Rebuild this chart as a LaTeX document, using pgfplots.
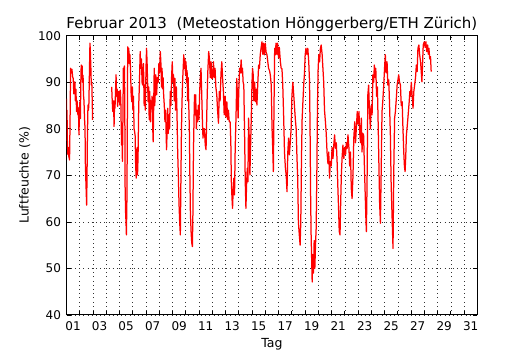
\documentclass[border=0pt]{standalone}
\usepackage{fontspec}
\setmainfont{DejaVu Sans}
\usepackage{pgfplots}
\pgfplotsset{compat=1.18}
\begin{document}
\begin{tikzpicture}
\path[use as bounding box] (0,0) rectangle (530pt,350pt);
\begin{axis}[
  at={(66.5pt,35pt)}, anchor=south west,
  scale only axis, width=410.8pt, height=279.3pt,
  xmin=0, xmax=31, ymin=40, ymax=100,
  xtick={0.5,2.5,...,30.5},
  xticklabels={01,03,05,07,09,11,13,15,17,19,21,23,25,27,29,31},
  minor xtick={1,2,...,30},
  ytick={40,50,...,100},
  xmajorgrids=false, xminorgrids=true, ymajorgrids=true,
  every major x tick/.append style={draw=none},
  major tick length=4pt, minor tick length=4pt,
  tick align=inside,
  tick style={black, line width=0.6pt},
  grid style={black!80, line width=0.55pt, dash pattern=on 0.8pt off 3.4pt},
  axis line style={line width=1pt, black},
  /pgf/number format/assume math mode=true,
  tick label style={font=\fontsize{12}{14}\selectfont},
  xticklabel style={yshift=-3.5pt},
  yticklabel style={xshift=-2pt},
  label style={font=\fontsize{12.5}{15}\selectfont},
  xlabel={Tag}, ylabel={Luftfeuchte (\%)},
  xlabel style={at={(axis description cs:0.5,0)}, anchor=base, yshift=-33pt},
  ylabel style={at={(axis description cs:-0.102,0.5)}, anchor=center},
  title={Februar 2013\ \ (Meteostation Hönggerberg/ETH Zürich)},
  title style={font=\fontsize{15}{18}\selectfont, at={(axis description cs:0.5,1)}, anchor=base, yshift=1pt},
  unbounded coords=jump,
]
\addplot[red, line width=1.25pt, line join=round] table {
x y
0.00 86.5
0.02 80
0.04 84
0.06 78
0.08 76
0.10 74.5
0.14 76
0.18 74
0.23 73.3
0.27 82
0.31 93.0
0.35 92
0.41 92.8
0.46 91.2
0.51 90.8
0.55 87.5
0.59 89
0.63 90.1
0.67 86
0.71 88.5
0.76 83.7
0.80 86
0.86 83.0
0.90 84.5
0.94 78.7
0.98 84
1.01 85.8
1.05 82.2
1.08 90
1.11 93.7
1.15 92
1.18 93.5
1.21 90
1.25 91.5
1.28 87.3
1.32 86
1.36 82.2
1.40 80
1.42 72.9
1.47 68
1.52 63.6
1.55 70
1.58 78.7
1.62 85.1
1.66 84
1.69 85.5
1.73 92
1.77 98.4
1.80 96.6
1.84 93
1.87 89.4
1.91 90
1.94 86
1.97 81.9
2.5 nan
3.41 89.0
3.45 86
3.49 83.7
3.55 86
3.59 80.5
3.63 86
3.66 84.4
3.70 88
3.74 91.6
3.78 87
3.82 88.5
3.86 84.8
3.90 88
3.94 85.8
3.98 88
4.02 85.1
4.06 88.3
4.10 86
4.13 80
4.16 76.5
4.19 78
4.22 73
4.25 80
4.29 93
4.33 92.5
4.37 93.5
4.40 85
4.42 68
4.46 62
4.49 60
4.52 57.2
4.56 65
4.59 80
4.62 97.6
4.66 95
4.70 97.3
4.74 94
4.78 96
4.83 93
4.88 87.3
4.93 85.8
4.97 89
5.01 84
5.05 87
5.10 80
5.14 79.4
5.18 78.5
5.22 72
5.26 69.4
5.30 75.1
5.34 76
5.36 70.1
5.40 74
5.45 85
5.50 89.4
5.56 96.6
5.60 93
5.66 95
5.70 90
5.75 89.4
5.81 94
5.86 85
5.91 89.4
5.95 84
6.00 93
6.04 97.3
6.08 94.4
6.12 90
6.16 85.8
6.20 89
6.24 82
6.28 88
6.33 81.5
6.37 86
6.42 84.4
6.46 87
6.51 80
6.54 77.2
6.58 85
6.62 93
6.66 85
6.70 88
6.74 91.6
6.80 87.3
6.86 91
6.92 90
6.97 94
7.02 92
7.08 96.6
7.12 94.4
7.17 89
7.21 93
7.25 88.6
7.29 91
7.33 87.3
7.38 85
7.43 81.5
7.48 84
7.52 78.6
7.55 75.5
7.60 80
7.64 84.4
7.68 79
7.73 83
7.78 80
7.83 88
7.88 85
7.93 91
7.98 94.4
8.03 90
8.08 91.6
8.13 86
8.18 90.8
8.23 84
8.29 89
8.34 83
8.39 75
8.44 70
8.49 64
8.54 60
8.59 57.2
8.63 68
8.67 78.6
8.71 85
8.75 89.4
8.79 92
8.85 95.9
8.89 93
8.94 95
8.98 91.6
9.02 94.4
9.06 90
9.10 92.5
9.14 86
9.18 91
9.22 85.8
9.27 80
9.31 70
9.35 62
9.40 58
9.45 55.5
9.50 54.7
9.54 62
9.58 75
9.62 81.5
9.66 87.3
9.70 83
9.75 87.3
9.80 80
9.85 84
9.90 81.5
9.95 85
10.00 82
10.05 88
10.10 91
10.15 93
10.20 88
10.25 82.3
10.30 78
10.35 80
10.41 80
10.47 76.5
10.53 75.5
10.60 85
10.66 92
10.73 96.6
10.79 95
10.85 91
10.91 94.4
10.96 90.8
11.02 90.8
11.09 94.4
11.15 91
11.21 93
11.27 89
11.34 87.3
11.40 84
11.47 81.2
11.53 88
11.59 86
11.66 92
11.72 94.4
11.78 90.8
11.84 88
11.90 83
11.97 87
12.03 82.5
12.10 85.8
12.16 82
12.22 84
12.28 81.5
12.35 81.5
12.40 77.2
12.44 68.6
12.49 65
12.53 62.9
12.58 67
12.63 69.4
12.68 65.8
12.73 75.8
12.79 82.3
12.85 90.8
12.90 87
12.95 82.3
13.00 88
13.06 93
13.12 92
13.18 94.8
13.23 92
13.28 93
13.33 90
13.38 89.4
13.44 78.6
13.49 68.6
13.54 62.9
13.59 68
13.64 71.5
13.69 68.6
13.74 82.3
13.79 78
13.84 70.1
13.89 76
13.94 82
14.00 90
14.04 93
14.09 91.6
14.14 86
14.20 90
14.26 85.8
14.32 88.5
14.37 85.1
14.43 89.4
14.50 93.7
14.56 93
14.62 95.9
14.68 97.3
14.75 98.7
14.81 96
14.87 98.4
14.93 95.9
15.00 98.4
15.06 96.5
15.13 95.9
15.19 94.4
15.25 93
15.32 92.5
15.38 91.6
15.45 89.4
15.51 80.1
15.56 76
15.61 70.8
15.66 85
15.71 97.3
15.76 95.9
15.81 98.4
15.87 96
15.93 98.4
16.00 95.2
16.06 97.5
16.14 94.4
16.20 93
16.26 92.9
16.32 89.4
16.39 82.3
16.45 75
16.52 71.5
16.58 70
16.64 66.5
16.70 75
16.76 78
16.82 74.4
16.89 77.2
16.95 80
17.01 87
17.08 90
17.13 88
17.20 85
17.27 82
17.33 80
17.39 74
17.45 69
17.50 60
17.56 57.5
17.63 55
17.68 60
17.73 73
17.78 82
17.84 85.8
17.90 89.4
17.96 92
18.01 95.9
18.07 97.3
18.14 96
18.21 97.3
18.28 94.4
18.34 90
18.38 80
18.42 66
18.46 57.2
18.50 52
18.54 47.1
18.59 53
18.64 49
18.69 56
18.74 50
18.79 55
18.84 58.6
18.89 70
18.94 85
18.99 93
19.04 95.9
19.10 94.4
19.16 97.3
19.22 98
19.29 96
19.35 93
19.41 90
19.47 84
19.54 81.5
19.60 79
19.66 75
19.73 72.5
19.79 75
19.85 69.4
19.91 73
19.98 72
20.04 76
20.11 73.6
20.17 76.5
20.23 78.7
20.30 75.8
20.36 77
20.42 73
20.48 67.2
20.53 63
20.58 58
20.64 57.2
20.69 64
20.74 70
20.80 74
20.86 76.5
20.93 73.6
20.99 76
21.06 74.5
21.12 77
21.18 75.8
21.24 78.7
21.31 76
21.37 72
21.43 75
21.49 67.2
21.55 65
21.62 70
21.68 78
21.75 81.5
21.81 77
21.87 80
21.94 83.7
22.00 81
22.07 83.7
22.13 79
22.19 77
22.25 82.3
22.30 75
22.36 79
22.42 78.7
22.48 72
22.55 65
22.60 60
22.63 57.9
22.68 68
22.74 87.3
22.80 89.4
22.86 84
22.93 80
22.99 85
23.06 83
23.12 91.6
23.18 90
23.23 93.7
23.28 91
23.34 93
23.40 87
23.46 89
23.52 81
23.58 71.5
23.63 64
23.69 59.7
23.75 71.5
23.81 83.7
23.87 86
23.94 89.4
24.00 93
24.06 95.9
24.12 92
24.19 94.4
24.25 89.4
24.32 90.5
24.38 85
24.44 78.7
24.50 68
24.57 61
24.64 54.3
24.70 71.5
24.76 82.3
24.82 83.7
24.89 86.5
24.95 89.4
25.01 90.5
25.07 91.6
25.13 90
25.20 89.4
25.26 85
25.33 85.8
25.39 80
25.45 75
25.50 72
25.55 70.8
25.60 74
25.65 78.7
25.71 80.5
25.76 82.2
25.81 84
25.86 85.8
25.91 88
25.96 87
26.02 90
26.08 87.3
26.15 84.4
26.21 88
26.27 89.4
26.34 91
26.40 93.7
26.46 92.3
26.52 97.3
26.59 98
26.65 95.9
26.72 94.4
26.77 92.3
26.82 90.1
26.87 94
26.92 98
27.00 98.7
27.06 97.5
27.12 98.7
27.18 96.6
27.25 98
27.30 96
27.35 97.3
27.41 95
27.47 95.5
27.52 92.3
};
\end{axis}
\end{tikzpicture}
\end{document}
